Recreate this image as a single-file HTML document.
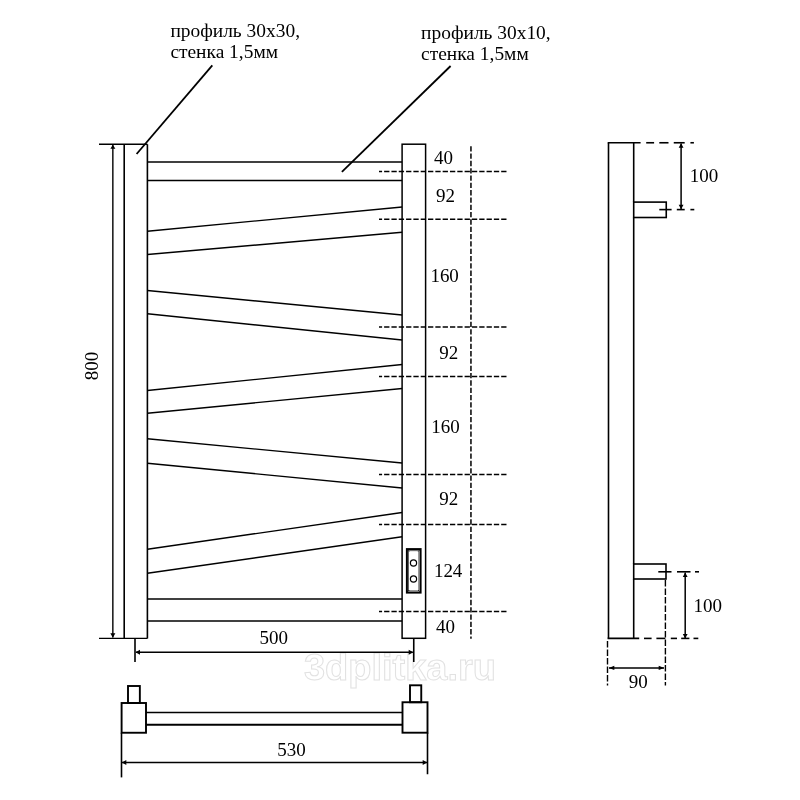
<!DOCTYPE html>
<html><head><meta charset="utf-8"><style>
html,body{margin:0;padding:0;background:#fff;width:800px;height:800px;overflow:hidden}
svg{display:block;will-change:transform}
text{font-family:"Liberation Serif",serif;fill:#000;stroke:none}
.wm{font-family:"Liberation Sans",sans-serif;font-weight:bold;fill:#fff;stroke:#e2e2e2;stroke-width:1}
</style></head><body>
<svg width="800" height="800" viewBox="0 0 800 800" stroke="#000" stroke-linecap="butt">
<text class="wm" x="304" y="679.6" font-size="36" textLength="192" lengthAdjust="spacingAndGlyphs">3dplitka.ru</text>
<line x1="99" y1="144.2" x2="147.4" y2="144.2" stroke-width="1.4"/>
<line x1="99" y1="638.4" x2="147.4" y2="638.4" stroke-width="1.4"/>
<line x1="112.85" y1="145" x2="112.85" y2="637.6" stroke-width="1.4"/>
<polygon points="112.85,144.80 110.35,148.80 115.35,148.80" fill="#000" stroke="none"/>
<polygon points="112.85,637.80 110.35,633.30 115.35,633.30" fill="#000" stroke="none"/>
<text x="98" y="366" font-size="19" text-anchor="middle" transform="rotate(-90 98 366)">800</text>
<line x1="124.2" y1="144.2" x2="124.2" y2="638.4" stroke-width="1.6"/>
<line x1="147.4" y1="144.2" x2="147.4" y2="638.4" stroke-width="1.6"/>
<line x1="135" y1="638.4" x2="135" y2="662" stroke-width="1.6"/>
<rect x="402.1" y="144.2" width="23.50" height="494.10" fill="none" stroke-width="1.5"/>
<line x1="413.75" y1="638.3" x2="413.75" y2="662" stroke-width="1.6"/>
<line x1="136" y1="652.25" x2="412.8" y2="652.25" stroke-width="1.5"/>
<polygon points="135.50,652.25 140.00,649.85 140.00,654.65" fill="#000" stroke="none"/>
<polygon points="413.20,652.25 408.70,649.85 408.70,654.65" fill="#000" stroke="none"/>
<text transform="translate(273.75 643.7) scale(1 1.04)" font-size="19" text-anchor="middle">500</text>
<line x1="147.4" y1="161.9" x2="402.1" y2="161.9" stroke-width="1.5"/>
<line x1="147.4" y1="180.6" x2="402.1" y2="180.6" stroke-width="1.5"/>
<line x1="147.4" y1="598.9" x2="402.1" y2="598.9" stroke-width="1.5"/>
<line x1="147.4" y1="621.1" x2="402.1" y2="621.1" stroke-width="1.5"/>
<line x1="147.4" y1="231.25" x2="402.1" y2="207" stroke-width="1.4"/>
<line x1="147.4" y1="254.5" x2="402.1" y2="232.3" stroke-width="1.4"/>
<line x1="147.4" y1="290.5" x2="402.1" y2="315" stroke-width="1.4"/>
<line x1="147.4" y1="313.75" x2="402.1" y2="340" stroke-width="1.4"/>
<line x1="147.4" y1="390.5" x2="402.1" y2="364.5" stroke-width="1.4"/>
<line x1="147.4" y1="413.25" x2="402.1" y2="388.5" stroke-width="1.4"/>
<line x1="147.4" y1="438.75" x2="402.1" y2="463" stroke-width="1.4"/>
<line x1="147.4" y1="463.25" x2="402.1" y2="488" stroke-width="1.4"/>
<line x1="147.4" y1="549.25" x2="402.1" y2="512.5" stroke-width="1.4"/>
<line x1="147.4" y1="573.25" x2="402.1" y2="536.75" stroke-width="1.4"/>
<line x1="379" y1="171.6" x2="506.5" y2="171.6" stroke-width="1.5" stroke-dasharray="5.3,2.017" stroke-dashoffset="2.2"/>
<line x1="379" y1="219.2" x2="506.5" y2="219.2" stroke-width="1.5" stroke-dasharray="5.3,2.017" stroke-dashoffset="2.2"/>
<line x1="379" y1="327.1" x2="506.5" y2="327.1" stroke-width="1.5" stroke-dasharray="5.3,2.017" stroke-dashoffset="2.2"/>
<line x1="379" y1="376.4" x2="506.5" y2="376.4" stroke-width="1.5" stroke-dasharray="5.3,2.017" stroke-dashoffset="2.2"/>
<line x1="379" y1="474.5" x2="506.5" y2="474.5" stroke-width="1.5" stroke-dasharray="5.3,2.017" stroke-dashoffset="2.2"/>
<line x1="379" y1="524.4" x2="506.5" y2="524.4" stroke-width="1.5" stroke-dasharray="5.3,2.017" stroke-dashoffset="2.2"/>
<line x1="379" y1="611.4" x2="506.5" y2="611.4" stroke-width="1.5" stroke-dasharray="5.3,2.017" stroke-dashoffset="2.2"/>
<line x1="470.95" y1="146.2" x2="470.95" y2="638.8" stroke-width="1.5" stroke-dasharray="5.3,2.017"/>
<text transform="translate(443.375 163.95) scale(1 1.04)" font-size="19" text-anchor="middle">40</text>
<text transform="translate(445.375 202.2) scale(1 1.04)" font-size="19" text-anchor="middle">92</text>
<text transform="translate(444.625 282.2) scale(1 1.04)" font-size="19" text-anchor="middle">160</text>
<text transform="translate(448.625 359.2) scale(1 1.04)" font-size="19" text-anchor="middle">92</text>
<text transform="translate(445.5 433.45) scale(1 1.04)" font-size="19" text-anchor="middle">160</text>
<text transform="translate(448.625 505.2) scale(1 1.04)" font-size="19" text-anchor="middle">92</text>
<text transform="translate(448.125 577.2) scale(1 1.04)" font-size="19" text-anchor="middle">124</text>
<text transform="translate(445.375 633.45) scale(1 1.04)" font-size="19" text-anchor="middle">40</text>
<rect x="406.9" y="549.1" width="13.70" height="43.50" fill="none" stroke-width="2.0"/>
<rect x="408.6" y="550.8" width="10.30" height="40.10" fill="none" stroke-width="0.6"/>
<line x1="407.9" y1="550.1" x2="409.2" y2="551.4" stroke-width="0.8"/>
<line x1="419.6" y1="550.1" x2="418.3" y2="551.4" stroke-width="0.8"/>
<line x1="407.9" y1="591.6" x2="409.2" y2="590.3" stroke-width="0.8"/>
<line x1="419.6" y1="591.6" x2="418.3" y2="590.3" stroke-width="0.8"/>
<circle cx="413.5" cy="563" r="3.1" fill="none" stroke-width="1.2"/>
<circle cx="413.5" cy="579" r="3.1" fill="none" stroke-width="1.2"/>
<text x="170.4" y="36.8" font-size="18.8" text-anchor="start" textLength="129.6" lengthAdjust="spacingAndGlyphs">профиль 30х30,</text>
<text x="170.4" y="57.8" font-size="18.8" text-anchor="start" textLength="107.6" lengthAdjust="spacingAndGlyphs">стенка 1,5мм</text>
<line x1="212.3" y1="65.3" x2="136.6" y2="154" stroke-width="1.8"/>
<text x="421.1" y="38.6" font-size="18.8" text-anchor="start" textLength="129.6" lengthAdjust="spacingAndGlyphs">профиль 30х10,</text>
<text x="421.1" y="59.6" font-size="18.8" text-anchor="start" textLength="107.6" lengthAdjust="spacingAndGlyphs">стенка 1,5мм</text>
<line x1="450.6" y1="66" x2="341.9" y2="171.9" stroke-width="1.8"/>
<line x1="608.5" y1="142.75" x2="608.5" y2="638.4" stroke-width="1.6"/>
<line x1="633.7" y1="142.75" x2="633.7" y2="202.1" stroke-width="1.6"/>
<line x1="633.7" y1="217.5" x2="633.7" y2="564" stroke-width="1.6"/>
<line x1="633.7" y1="579" x2="633.7" y2="638.4" stroke-width="1.6"/>
<line x1="607.7" y1="142.75" x2="640.6" y2="142.75" stroke-width="1.6"/>
<line x1="646.2" y1="142.76" x2="654.1" y2="142.76" stroke-width="1.6"/>
<line x1="659.3" y1="142.76" x2="668.5" y2="142.76" stroke-width="1.6"/>
<line x1="673.75" y1="142.76" x2="684.7" y2="142.76" stroke-width="1.6"/>
<line x1="690.4" y1="142.76" x2="693.9" y2="142.76" stroke-width="1.6"/>
<line x1="681.1" y1="143.5" x2="681.1" y2="209" stroke-width="1.5"/>
<polygon points="681.10,143.30 678.70,147.80 683.50,147.80" fill="#000" stroke="none"/>
<polygon points="681.10,209.20 678.70,204.70 683.50,204.70" fill="#000" stroke="none"/>
<text transform="translate(704 182) scale(1 1.04)" font-size="19" text-anchor="middle">100</text>
<rect x="633.7" y="202.1" width="32.55" height="15.40" fill="none" stroke-width="1.6"/>
<line x1="659.3" y1="209.6" x2="671.6" y2="209.6" stroke-width="1.6"/>
<line x1="676.8" y1="209.6" x2="684.7" y2="209.6" stroke-width="1.6"/>
<line x1="690.4" y1="209.6" x2="694.3" y2="209.6" stroke-width="1.6"/>
<rect x="633.7" y="564" width="32.30" height="15.00" fill="none" stroke-width="1.6"/>
<line x1="658.3" y1="571.8" x2="671.5" y2="571.8" stroke-width="1.6"/>
<line x1="677" y1="571.8" x2="690.5" y2="571.8" stroke-width="1.6"/>
<line x1="695" y1="571.8" x2="699" y2="571.8" stroke-width="1.6"/>
<line x1="685.2" y1="572.5" x2="685.2" y2="638.2" stroke-width="1.5"/>
<polygon points="685.20,572.40 682.80,576.90 687.60,576.90" fill="#000" stroke="none"/>
<polygon points="685.20,638.40 682.80,633.90 687.60,633.90" fill="#000" stroke="none"/>
<text transform="translate(707.8 611.7) scale(1 1.04)" font-size="19" text-anchor="middle">100</text>
<line x1="607.6" y1="638.4" x2="639.2" y2="638.4" stroke-width="1.6"/>
<line x1="644" y1="638.4" x2="651.6" y2="638.4" stroke-width="1.6"/>
<line x1="656.4" y1="638.4" x2="665.3" y2="638.4" stroke-width="1.6"/>
<line x1="670.8" y1="638.4" x2="677" y2="638.4" stroke-width="1.6"/>
<line x1="681.2" y1="638.4" x2="689.4" y2="638.4" stroke-width="1.6"/>
<line x1="693.5" y1="638.4" x2="698.3" y2="638.4" stroke-width="1.6"/>
<line x1="607.5" y1="641" x2="607.5" y2="685.5" stroke-width="1.4" stroke-dasharray="6.5,2"/>
<line x1="665.4" y1="580" x2="665.4" y2="685.5" stroke-width="1.4" stroke-dasharray="6.5,2"/>
<line x1="609" y1="667.9" x2="664" y2="667.9" stroke-width="1.5"/>
<polygon points="608.80,667.90 614.30,665.80 614.30,670.00" fill="#000" stroke="none"/>
<polygon points="664.20,667.90 658.70,665.80 658.70,670.00" fill="#000" stroke="none"/>
<text transform="translate(638.3 688.3) scale(1 1.04)" font-size="19" text-anchor="middle">90</text>
<rect x="128" y="686" width="11.85" height="17.00" fill="none" stroke-width="1.9"/>
<rect x="121.6" y="703" width="24.40" height="29.75" fill="none" stroke-width="1.9"/>
<line x1="146" y1="712.5" x2="402.5" y2="712.5" stroke-width="1.5"/>
<line x1="146" y1="724.8" x2="402.5" y2="724.8" stroke-width="2.0"/>
<rect x="410" y="685.3" width="11.25" height="16.95" fill="none" stroke-width="1.9"/>
<rect x="402.5" y="702.25" width="25.00" height="30.45" fill="none" stroke-width="1.9"/>
<line x1="121.5" y1="732.75" x2="121.5" y2="777.4" stroke-width="1.6"/>
<line x1="427.5" y1="732.7" x2="427.5" y2="774.25" stroke-width="1.6"/>
<line x1="122" y1="762.5" x2="427" y2="762.5" stroke-width="1.3"/>
<polygon points="121.80,762.50 126.30,760.10 126.30,764.90" fill="#000" stroke="none"/>
<polygon points="427.20,762.50 422.70,760.10 422.70,764.90" fill="#000" stroke="none"/>
<text transform="translate(291.5 755.5) scale(1 1.04)" font-size="19" text-anchor="middle">530</text>
</svg>
</body></html>
